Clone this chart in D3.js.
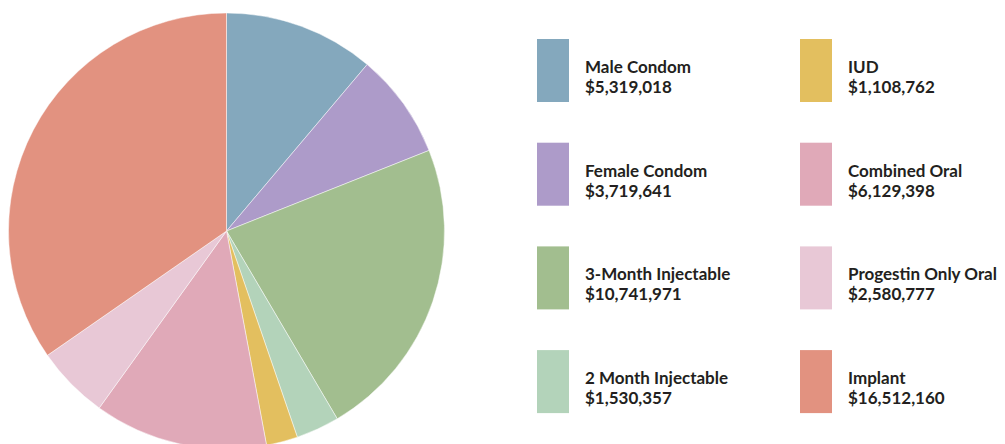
<!DOCTYPE html>
<html>
<head>
<meta charset="utf-8">
<script src="https://cdn.jsdelivr.net/npm/d3@7"></script>
<style>
  body { margin: 0; background: #fff; }
  svg { display: block; }
  .legend text { font-family: Lato, "Open Sans", sans-serif; font-weight: bold; font-size: 17px; fill: #231f20; }
</style>
</head>
<body>
<div class="board"></div>
<script>
// product names and spend, in slice order (clockwise from top)
var categories = ['Male Condom', 'Female Condom', '3-Month Injectable', '2 Month Injectable',
                  'IUD', 'Combined Oral', 'Progestin Only Oral', 'Implant'];
var values = [5319018, 3719641, 10741971, 1530357, 1108762, 6129398, 2580777, 16512160];
var colors = ['#84a8bd', '#ad9bc9', '#a2be8f', '#b3d3ba', '#e3bf5f', '#e0a9b8', '#e8c8d6', '#e29280'];
// legend layout: first column, then second
var legendOrder = ['Male Condom', 'Female Condom', '3-Month Injectable', '2 Month Injectable',
                   'IUD', 'Combined Oral', 'Progestin Only Oral', 'Implant'];

var width = 1005;
var height = 444;

var svg = d3.select('.board').append('svg')
    .attr('width', width)
    .attr('height', height);

var data = categories.map(function (c, i) {
  return { name: c, value: values[i] };
});

var color = d3.scaleOrdinal().domain(categories).range(colors);

var pie = d3.pie().sort(null).value(function (d) { return d.value; });
var arc = d3.arc().innerRadius(0).outerRadius(218);

var g = svg.append('g').attr('transform', 'translate(226.5,231)');

g.selectAll('path')
    .data(pie(data))
    .enter().append('path')
    .attr('d', arc)
    .style('fill', function (d) { return color(d.data.name); })
    .style('stroke', '#fff')
    .style('stroke-opacity', 0.6)
    .style('stroke-width', 0.8);

// legend
var fmt = d3.format('$,');
var legend = svg.append('g').attr('class', 'legend');

var item = legend.selectAll('g')
    .data(legendOrder)
    .enter().append('g')
    .attr('transform', function (d, i) {
      var col = Math.floor(i / 4), row = i % 4;
      return 'translate(' + (537 + col * 263) + ',' + (39 + row * 103.7) + ')';
    });

item.append('rect')
    .attr('width', 32)
    .attr('height', 63)
    .style('fill', function (d) { return color(d); });

item.append('text')
    .attr('x', 48)
    .attr('y', 34)
    .text(function (d) { return d; });

item.append('text')
    .attr('x', 48)
    .attr('y', 54)
    .text(function (d) { return fmt(values[categories.indexOf(d)]); });
</script>
</body>
</html>
